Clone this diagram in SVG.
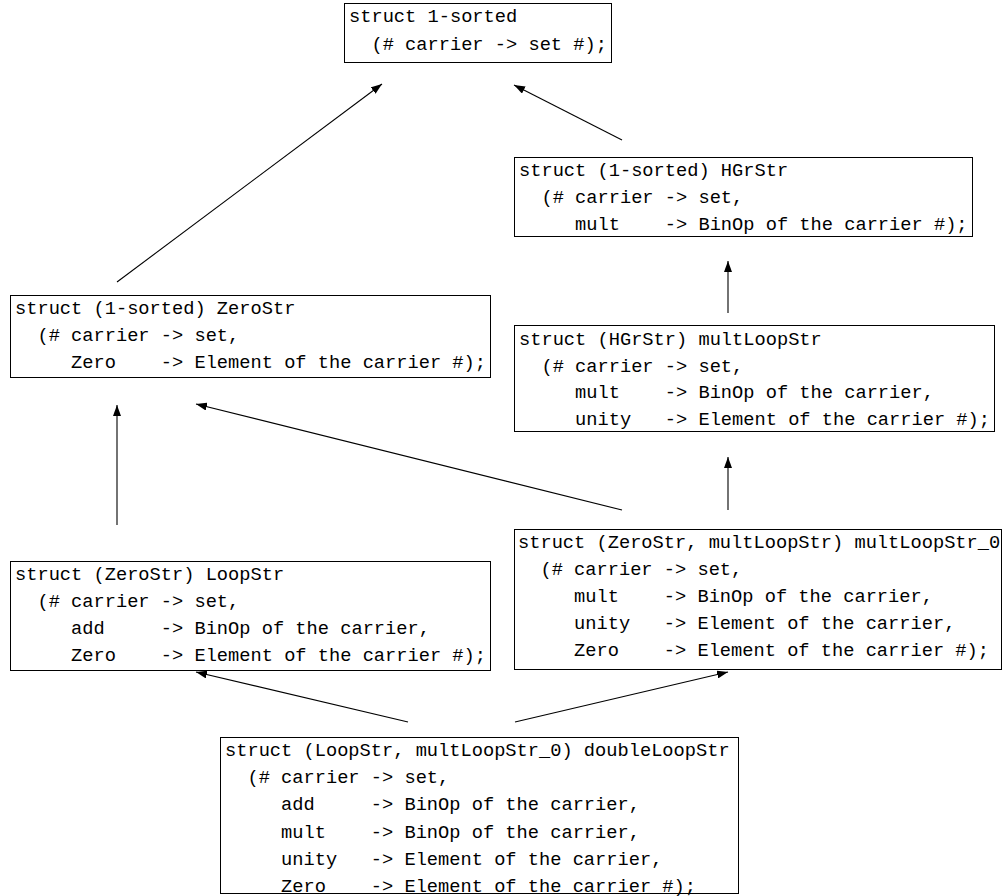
<svg xmlns="http://www.w3.org/2000/svg" width="1005" height="896" viewBox="0 0 1005 896">
<style>
  .box { fill: #fff; stroke: #000; stroke-width: 1; }
  .t { font-family: "Liberation Mono", "DejaVu Sans Mono", monospace; font-size: 18.7px; fill: #000; white-space: pre; }
  .c { stroke: #000; stroke-width: 1.1; fill: none; marker-end: url(#ah); }
</style>
<defs>
  <marker id="ah" markerUnits="userSpaceOnUse" markerWidth="12" markerHeight="8" refX="11" refY="4" orient="auto">
    <path d="M0,0 L11,4 L0,8 z" fill="#000"/>
  </marker>
</defs>
<rect width="1005" height="896" fill="#fff"/>
<g id="connectors">
  <line class="c" x1="117" y1="282" x2="382" y2="84"/>
  <line class="c" x1="622" y1="140" x2="514" y2="85"/>
  <line class="c" x1="728" y1="313" x2="728" y2="261"/>
  <line class="c" x1="117" y1="525" x2="117" y2="405"/>
  <line class="c" x1="622" y1="510" x2="196" y2="404"/>
  <line class="c" x1="728" y1="510" x2="728" y2="457"/>
  <line class="c" x1="408" y1="722" x2="196" y2="672"/>
  <line class="c" x1="515" y1="722" x2="728" y2="672"/>
</g>
<g id="n-1sorted">
  <rect class="box" x="344.5" y="3.5" width="267" height="59"/>
  <text class="t" xml:space="preserve" x="349" y="22">struct 1-sorted</text>
  <text class="t" xml:space="preserve" x="349" y="50">  (# carrier -&gt; set #);</text>
</g>
<g id="n-HGrStr">
  <rect class="box" x="514.5" y="157.5" width="458" height="79"/>
  <text class="t" xml:space="preserve" x="519" y="176">struct (1-sorted) HGrStr</text>
  <text class="t" xml:space="preserve" x="519" y="203">  (# carrier -&gt; set,</text>
  <text class="t" xml:space="preserve" x="519" y="230">     mult    -&gt; BinOp of the carrier #);</text>
</g>
<g id="n-ZeroStr">
  <rect class="box" x="10.5" y="295.5" width="480" height="82"/>
  <text class="t" xml:space="preserve" x="15" y="314">struct (1-sorted) ZeroStr</text>
  <text class="t" xml:space="preserve" x="15" y="341">  (# carrier -&gt; set,</text>
  <text class="t" xml:space="preserve" x="15" y="368">     Zero    -&gt; Element of the carrier #);</text>
</g>
<g id="n-multLoopStr">
  <rect class="box" x="514.5" y="325.5" width="480" height="106"/>
  <text class="t" xml:space="preserve" x="519" y="345">struct (HGrStr) multLoopStr</text>
  <text class="t" xml:space="preserve" x="519" y="372">  (# carrier -&gt; set,</text>
  <text class="t" xml:space="preserve" x="519" y="398">     mult    -&gt; BinOp of the carrier,</text>
  <text class="t" xml:space="preserve" x="519" y="425">     unity   -&gt; Element of the carrier #);</text>
</g>
<g id="n-LoopStr">
  <rect class="box" x="10.5" y="561.5" width="480" height="109"/>
  <text class="t" xml:space="preserve" x="15" y="580">struct (ZeroStr) LoopStr</text>
  <text class="t" xml:space="preserve" x="15" y="607">  (# carrier -&gt; set,</text>
  <text class="t" xml:space="preserve" x="15" y="634">     add     -&gt; BinOp of the carrier,</text>
  <text class="t" xml:space="preserve" x="15" y="661">     Zero    -&gt; Element of the carrier #);</text>
</g>
<g id="n-multLoopStr_0">
  <rect class="box" x="514.5" y="529.5" width="487" height="140"/>
  <text class="t" xml:space="preserve" x="518" y="548">struct (ZeroStr, multLoopStr) multLoopStr_0</text>
  <text class="t" xml:space="preserve" x="518" y="575">  (# carrier -&gt; set,</text>
  <text class="t" xml:space="preserve" x="518" y="602">     mult    -&gt; BinOp of the carrier,</text>
  <text class="t" xml:space="preserve" x="518" y="629">     unity   -&gt; Element of the carrier,</text>
  <text class="t" xml:space="preserve" x="518" y="656">     Zero    -&gt; Element of the carrier #);</text>
</g>
<g id="n-doubleLoopStr">
  <rect class="box" x="220.5" y="737.5" width="518" height="156"/>
  <text class="t" xml:space="preserve" x="225" y="756">struct (LoopStr, multLoopStr_0) doubleLoopStr</text>
  <text class="t" xml:space="preserve" x="225" y="783">  (# carrier -&gt; set,</text>
  <text class="t" xml:space="preserve" x="225" y="810">     add     -&gt; BinOp of the carrier,</text>
  <text class="t" xml:space="preserve" x="225" y="838">     mult    -&gt; BinOp of the carrier,</text>
  <text class="t" xml:space="preserve" x="225" y="865">     unity   -&gt; Element of the carrier,</text>
  <text class="t" xml:space="preserve" x="225" y="892">     Zero    -&gt; Element of the carrier #);</text>
</g>
</svg>
